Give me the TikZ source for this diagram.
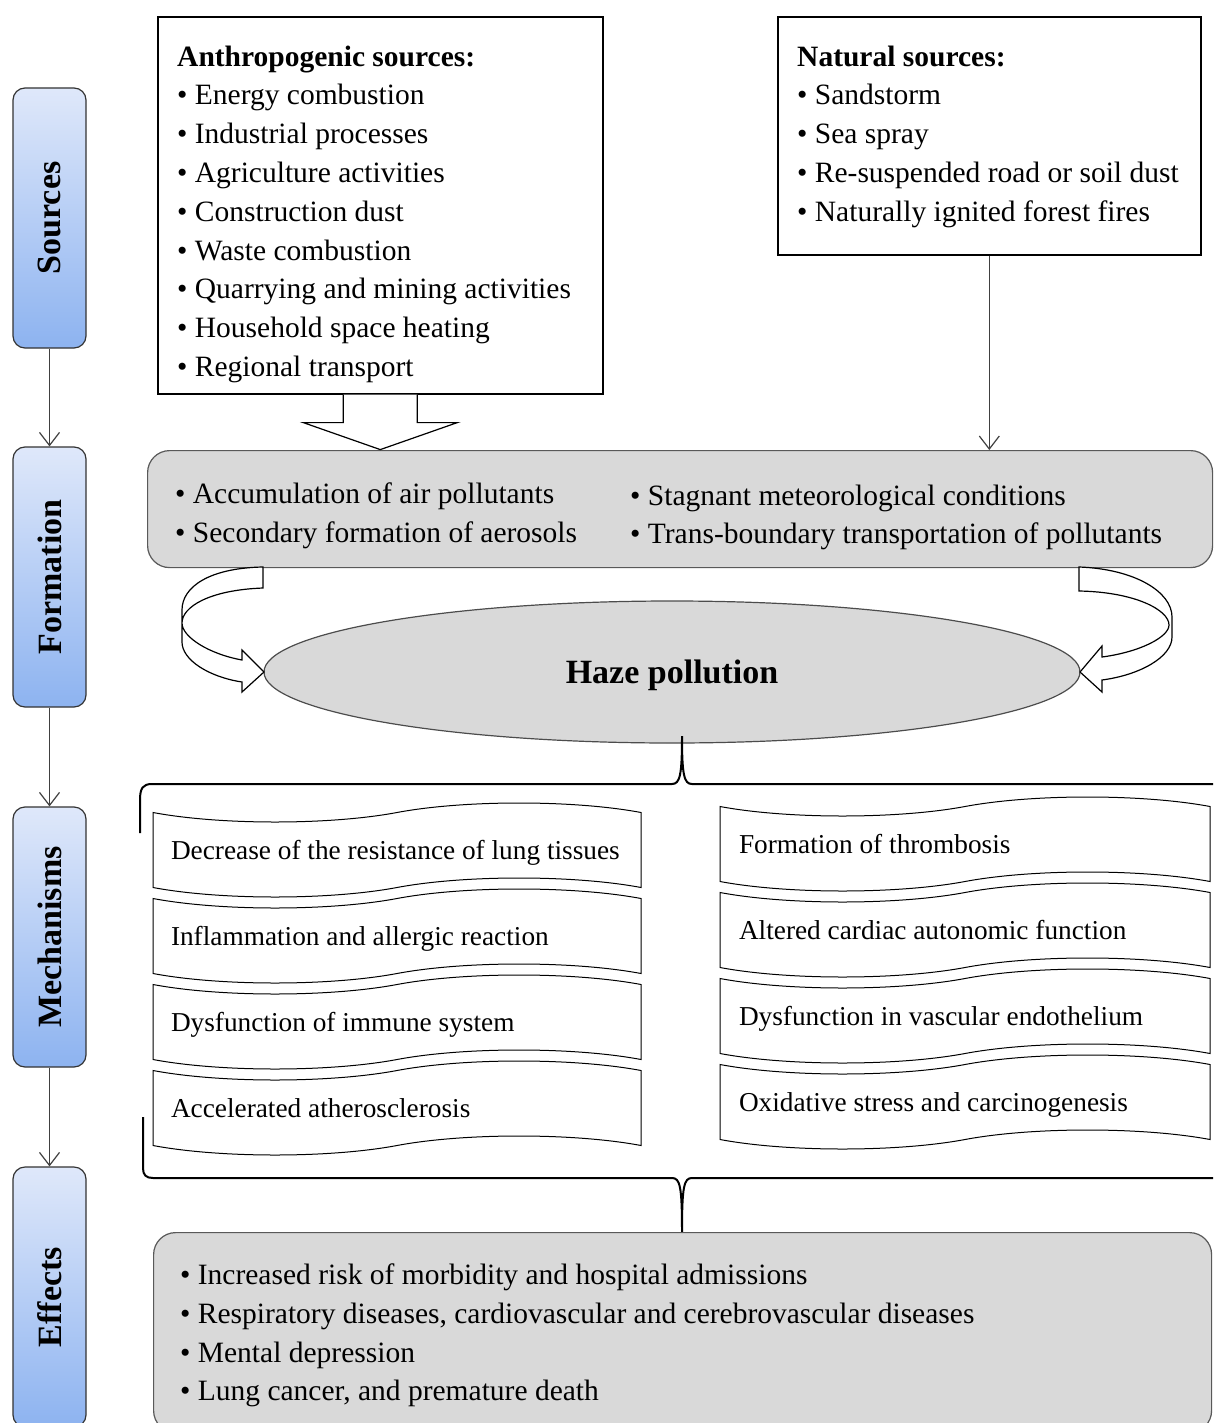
\documentclass[tikz,border=0pt]{standalone}
\usepackage{fontspec}
\setmainfont{Liberation Serif}
\usepackage{graphicx}
\usetikzlibrary{positioning,calc,shapes.geometric,shapes.symbols,arrows.meta}

\definecolor{labtop}{HTML}{DFE8FA}
\definecolor{labbot}{HTML}{8DB3F0}
\definecolor{boxgray}{HTML}{D9D9D9}

\tikzset{
  sidelab/.style={draw=black!80, line width=1.2pt, rounded corners=12pt, top color=labtop, bottom color=labbot,
    minimum width=73pt, minimum height=260pt, inner sep=0pt, font=\fontsize{34}{40}\selectfont\bfseries},
  srcbox/.style={draw, line width=1.6pt, inner sep=0pt},
  listtxt/.style={anchor=north west, inner sep=0pt, align=left, font=\fontsize{29.5}{38.8}\selectfont},
  graybox/.style={draw=black!65, line width=1.2pt, fill=boxgray, rounded corners=22pt, inner sep=0pt},
  mechbox/.style={tape, draw, line width=1pt, minimum width=488pt, minimum height=94pt, tape bend height=19pt,
    text width=452pt, align=flush left, text depth=0pt, inner sep=0pt, font=\fontsize{27.3}{32}\selectfont},
  flow/.style={draw=black!75, line width=1.2pt, -{Straight Barb[length=13pt,width=20pt]}},
  blockarrow/.style={draw, line width=1.2pt, fill=white},
  grp/.style={line width=2pt}
}

\begin{document}
\begin{tikzpicture}[x=1pt, y=-1pt]
    \useasboundingbox (0,0) rectangle (1213,1423);
    \clip (0,0) rectangle (1213,1423);

    % side labels
    \node[sidelab] (srcLab) at (49.5,218) {\rotatebox{90}{Sources}};
    \node[sidelab] (formLab) at (49.5,577) {\rotatebox{90}{Formation}};
    \node[sidelab] (mechLab) at (49.5,937) {\rotatebox{90}{Mechanisms}};
    \node[sidelab] (effLab) at (49.5,1297) {\rotatebox{90}{Effects}};
    \draw[flow] (srcLab) -- (formLab);
    \draw[flow] (formLab) -- (mechLab);
    \draw[flow] (mechLab) -- (effLab);

    % sources
    \node[srcbox, minimum width=445pt, minimum height=377pt, anchor=north west] (anthro) at (157,16) {};
    \node[listtxt] (anthroTxt) at ($(anthro.north west)+(20,29.5)$) {\textbf{Anthropogenic sources:}\\
        \textbullet\ Energy combustion\\
        \textbullet\ Industrial processes\\
        \textbullet\ Agriculture activities\\
        \textbullet\ Construction dust\\
        \textbullet\ Waste combustion\\
        \textbullet\ Quarrying and mining activities\\
        \textbullet\ Household space heating\\
        \textbullet\ Regional transport};
    \node[srcbox, minimum width=423pt, minimum height=238pt, anchor=north west] (natural) at (777,16) {};
    \node[listtxt] (naturalTxt) at ($(natural.north west)+(20,29.5)$) {\textbf{Natural sources:}\\
        \textbullet\ Sandstorm\\
        \textbullet\ Sea spray\\
        \textbullet\ Re-suspended road or soil dust\\
        \textbullet\ Naturally ignited forest fires};

    % formation
    \node[graybox, minimum width=1065pt, minimum height=117pt, anchor=north west] (form) at (147,450) {};
    \node[listtxt] (formL) at (175,482.5) {\textbullet\ Accumulation of air pollutants\\
        \textbullet\ Secondary formation of aerosols};
    \node[listtxt] (formR) at (630,484.5) {\textbullet\ Stagnant meteorological conditions\\
        \textbullet\ Trans-boundary transportation of pollutants};
    \begin{scope}[shift={(anthro.south)}]
        \draw[blockarrow] (-37,0) -- (-37,28) -- (-77,28) -- (0,55) -- (77,28) -- (37,28) -- (37,0);
    \end{scope}
    \draw[flow] (natural.south) -- (natural.south |- form.north);

    % haze
    \node[ellipse, draw=black!70, line width=1.2pt, fill=boxgray, minimum width=816pt, minimum height=142pt,
        inner sep=0pt, outer sep=0pt, text depth=0pt, font=\fontsize{34}{40}\selectfont\bfseries] (haze) at (672,672) {Haze pollution};
    \begin{scope}[shift={(haze.west)}]
        \draw[blockarrow] (-1,-105) .. controls (-55,-104) and (-82,-85) .. (-82,-62) -- (-82,-30)
            .. controls (-82,-12) and (-55,5) .. (-22,10) -- (-22,20) -- (0,0) -- (-22,-22) -- (-22,-12)
            .. controls (-55,-18) and (-82,-35) .. (-82,-49) .. controls (-82,-65) and (-55,-82) .. (-1,-84) -- cycle;
    \end{scope}
    \begin{scope}[shift={(haze.east)}]
        \draw[blockarrow] (-1,-105) .. controls (55,-103) and (92,-80) .. (92,-55) -- (92,-35)
            .. controls (92,-15) and (60,3) .. (22,8) -- (22,20) -- (0,0) -- (22,-26) -- (22,-15)
            .. controls (60,-20) and (89,-35) .. (89,-47) .. controls (89,-62) and (55,-80) .. (-1,-81) -- cycle;
    \end{scope}

    % mechanisms
    \draw[grp] (140,833) -- (140,800) .. controls (140,788) and (143,784) .. (152,784) -- (672,784)
        .. controls (680,784) and (682,775) .. (682,736) .. controls (682,775) and (684,784) .. (692,784) -- (1213,784);
    \node[mechbox] (mechL1) at (397,850) {Decrease of the resistance of lung tissues};
    \node[mechbox] (mechL2) at (397,936) {Inflammation and allergic reaction};
    \node[mechbox] (mechL3) at (397,1022) {Dysfunction of immune system};
    \node[mechbox] (mechL4) at (397,1108) {Accelerated atherosclerosis};
    \node[mechbox, minimum width=490pt] (mechR1) at (965,844) {Formation of thrombosis};
    \node[mechbox, minimum width=490pt] (mechR2) at (965,930) {Altered cardiac autonomic function};
    \node[mechbox, minimum width=490pt] (mechR3) at (965,1016) {Dysfunction in vascular endothelium};
    \node[mechbox, minimum width=490pt] (mechR4) at (965,1102) {Oxidative stress and carcinogenesis};
    \draw[grp] (143,1117) -- (143,1168) .. controls (143,1175) and (146,1178) .. (153,1178) -- (672,1178)
        .. controls (680,1178) and (682,1186) .. (682,1232) .. controls (682,1186) and (684,1178) .. (692,1178) -- (1213,1178);

    % effects
    \node[graybox, minimum width=1058pt, minimum height=200pt, anchor=north west] (eff) at (153,1232) {};
    \node[listtxt] (effTxt) at (180,1263.5) {\textbullet\ Increased risk of morbidity and hospital admissions\\
        \textbullet\ Respiratory diseases, cardiovascular and cerebrovascular diseases\\
        \textbullet\ Mental depression\\
        \textbullet\ Lung cancer, and premature death};
\end{tikzpicture}
\end{document}
